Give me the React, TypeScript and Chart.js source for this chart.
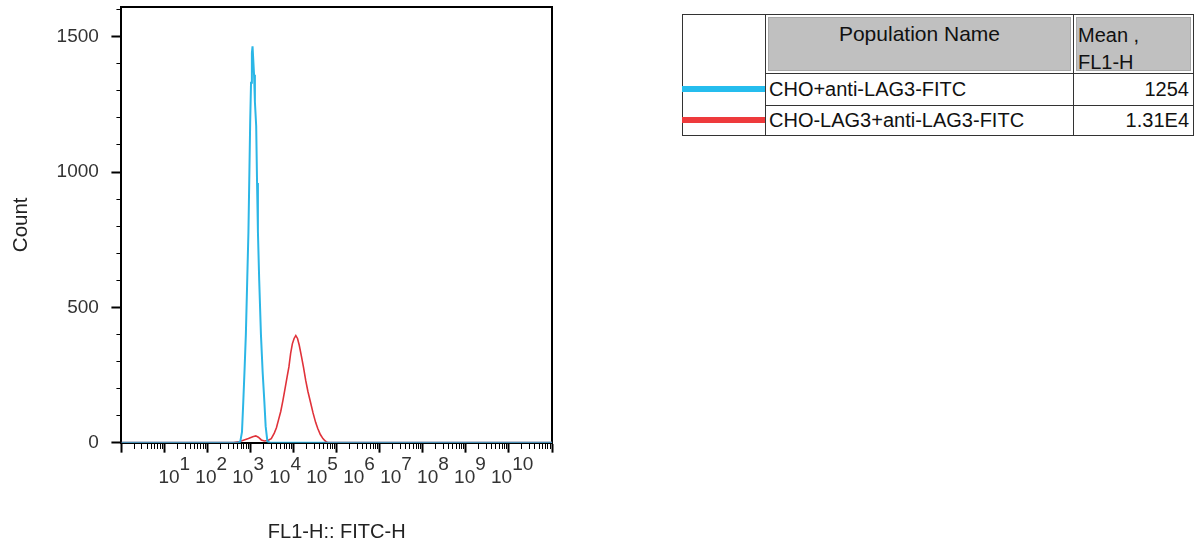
import React, { useEffect, useRef } from 'react';
import { Chart, registerables } from 'chart.js';

Chart.register(...registerables);

const FONT = "'Liberation Sans', Arial, Helvetica, sans-serif";

// ---- data ----
const SERIES_NAMES = ['CHO+anti-LAG3-FITC', 'CHO-LAG3+anti-LAG3-FITC'];
const SERIES_MEANS = ['1254', '1.31E4'];
const SERIES_COLORS = ['#2bb6e6', '#e0323a'];
const LEGEND_COLORS = ['#25bdee', '#ee3a3c'];

// FL1-H position in decades (log10 of FL1-H) and counts
const blueLogFL1 = [0, 2.7, 2.76, 2.8, 2.83, 2.86, 2.89, 2.92, 2.95, 2.97, 2.99, 3.01, 3.03, 3.045, 3.06, 3.08, 3.1, 3.13, 3.15, 3.17, 3.2, 3.24, 3.28, 3.32, 3.35, 3.39, 3.45, 10];
const blueCounts = [0, 0, 3, 40, 150, 270, 400, 590, 780, 980, 1180, 1330, 1440, 1465, 1420, 1360, 1260, 1170, 960, 780, 600, 400, 260, 150, 60, 5, 0, 0];

const redLogFL1 = [0, 2.6, 2.75, 2.85, 2.95, 3.05, 3.12, 3.18, 3.25, 3.32, 3.4, 3.48, 3.55, 3.6, 3.65, 3.7, 3.75, 3.8, 3.85, 3.89, 3.93, 3.97, 4.01, 4.05, 4.09, 4.13, 4.18, 4.23, 4.28, 4.33, 4.39, 4.45, 4.51, 4.56, 4.62, 4.68, 4.74, 4.8, 10];
const redCounts = [0, 0, 4, 10, 15, 22, 25, 20, 10, 6, 8, 15, 35, 55, 85, 115, 155, 200, 245, 280, 330, 365, 385, 396, 385, 360, 320, 277, 230, 190, 150, 110, 75, 52, 30, 15, 5, 0, 0];

// ---- axes ----
const X_DECADES = [0, 1, 2, 3, 4, 5, 6, 7, 8, 9, 10];
const X_MINOR_MULT = [2, 3, 4, 5, 6, 7, 8, 9];
const X_LABEL_POS = [1, 2, 3, 4, 5, 6, 7, 8, 9, 10];
const X_LABEL_EXP = ['1', '2', '3', '4', '5', '6', '7', '8', '9', '10'];
const Y_MAX = 1610;
const Y_TICKS = [0, 100, 200, 300, 400, 500, 600, 700, 800, 900, 1000, 1100, 1200, 1300, 1400, 1500, 1600];
const Y_LABELED = [0, 500, 1000, 1500];

const isDecade = (v: number) => {
  const l = Math.log10(v);
  return Math.abs(l - Math.round(l)) < 1e-6;
};
const isYMajor = (v: number) => Y_LABELED.indexOf(v) >= 0;

const xTickValues: number[] = [];
X_DECADES.forEach((d) => {
  xTickValues.push(Math.pow(10, d));
  if (d < 10) X_MINOR_MULT.forEach((m) => xTickValues.push(m * Math.pow(10, d)));
});

const toPoints = (lx: number[], c: number[]) => lx.map((v, i) => ({ x: Math.pow(10, v), y: c[i] }));

export default function App() {
  const ref = useRef<HTMLCanvasElement>(null);

  useEffect(() => {
    if (!ref.current) return;
    Chart.defaults.font.family = FONT;
    const chart = new Chart(ref.current, {
      type: 'line',
      data: {
        datasets: [
          {
            label: SERIES_NAMES[0],
            data: toPoints(blueLogFL1, blueCounts),
            borderColor: SERIES_COLORS[0],
            borderWidth: 2,
            pointRadius: 0,
            fill: false,
            tension: 0,
            xAxisID: 'x',
            yAxisID: 'y',
          },
          {
            label: SERIES_NAMES[1],
            data: toPoints(redLogFL1, redCounts),
            borderColor: SERIES_COLORS[1],
            borderWidth: 1.6,
            pointRadius: 0,
            fill: false,
            tension: 0,
            xAxisID: 'x',
            yAxisID: 'y',
          },
        ],
      },
      options: {
        responsive: false,
        animation: false,
        layout: { padding: { left: 3, top: 7, right: 646, bottom: 2 } },
        plugins: { legend: { display: false }, tooltip: { enabled: false } },
        scales: {
          x: {
            type: 'logarithmic',
            position: 'bottom',
            min: 1,
            max: 1e10,
            weight: 1,
            afterBuildTicks: (scale: any) => {
              scale.ticks = xTickValues.map((v) => ({ value: v }));
            },
            ticks: { display: false },
            grid: {
              display: true,
              drawOnChartArea: false,
              drawTicks: true,
              tickLength: 10,
              tickColor: '#000',
              tickWidth: (ctx: any) => (ctx.tick && isDecade(ctx.tick.value) ? 2 : 1),
              tickBorderDash: (ctx: any) => (ctx.tick && isDecade(ctx.tick.value) ? [] : [5, 100]),
            },
            border: { display: true, color: '#000', width: 2 },
          },
          xl: {
            type: 'linear',
            position: 'bottom',
            min: 0,
            max: 11.65,
            weight: 2,
            afterBuildTicks: (scale: any) => {
              scale.ticks = X_LABEL_POS.map((v) => ({ value: v }));
            },
            ticks: {
              autoSkip: false,
              maxRotation: 0,
              minRotation: 0,
              align: 'start',
              padding: 5,
              color: '#333',
              font: { family: FONT, size: 19, lineHeight: 0.72 },
              callback: (_v: any, i: number) => ['    ' + X_LABEL_EXP[i], '10'],
            },
            grid: { display: false, drawTicks: false, drawOnChartArea: false },
            border: { display: false },
            title: {
              display: true,
              text: 'FL1-H:: FITC-H',
              color: '#222',
              font: { family: FONT, size: 20 },
              padding: { top: 30, bottom: 4 },
            },
          },
          x2: {
            type: 'linear',
            position: 'top',
            ticks: { display: false },
            grid: { display: false, drawTicks: false, drawOnChartArea: false },
            border: { display: true, color: '#000', width: 2 },
          },
          y: {
            type: 'linear',
            position: 'left',
            min: 0,
            max: Y_MAX,
            afterBuildTicks: (scale: any) => {
              scale.ticks = Y_TICKS.map((v) => ({ value: v }));
            },
            ticks: {
              autoSkip: false,
              padding: 2,
              color: '#333',
              font: (ctx: any) =>
                ctx.tick && isYMajor(ctx.tick.value)
                  ? { family: FONT, size: 19 }
                  : { family: FONT, size: 19, lineHeight: 0.05 },
              callback: (v: any) => (isYMajor(Number(v)) ? String(v) + '  ' : ''),
            },
            grid: {
              drawOnChartArea: false,
              tickLength: 10,
              tickColor: '#000',
              tickWidth: (ctx: any) => (ctx.tick && isYMajor(ctx.tick.value) ? 2 : 1),
              tickBorderDash: (ctx: any) => (ctx.tick && isYMajor(ctx.tick.value) ? [] : [0, 5, 5, 100]),
            },
            border: { display: true, color: '#000', width: 2 },
            title: {
              display: true,
              text: 'Count',
              color: '#222',
              font: { family: FONT, size: 20.5 },
              padding: { top: 6, bottom: 21 },
            },
          },
          y2: {
            type: 'linear',
            position: 'right',
            ticks: { display: false },
            grid: { display: false, drawTicks: false, drawOnChartArea: false },
            border: { display: true, color: '#000', width: 2 },
          },
        },
      } as any,
    });
    return () => chart.destroy();
  }, []);

  const cellBase: React.CSSProperties = {
    position: 'absolute',
    boxSizing: 'border-box',
    border: '1px solid #333',
    background: '#fff',
  };
  const cols = [682, 765, 1073, 1193];
  const rows = [14, 73, 105, 135];
  const cell = (c: number, r: number, extra?: React.CSSProperties, children?: React.ReactNode) => (
    <div
      key={`${c}-${r}`}
      style={{
        ...cellBase,
        left: cols[c],
        top: rows[r],
        width: cols[c + 1] - cols[c] + 1,
        height: rows[r + 1] - rows[r] + 1,
        ...extra,
      }}
    >
      {children}
    </div>
  );
  const grayInset: React.CSSProperties = {
    position: 'absolute',
    left: 2,
    top: 2,
    right: 2,
    bottom: 2,
    background: '#c0c0c0',
    border: '1px solid #a8a8a8',
    overflow: 'hidden',
  };
  const txt: React.CSSProperties = { fontFamily: FONT, fontSize: 20, color: '#111', whiteSpace: 'nowrap' };

  return (
    <div style={{ position: 'fixed', left: 0, top: 0, width: 1198, height: 550, background: '#fff' }}>
      <canvas ref={ref} width={1198} height={550} style={{ position: 'absolute', left: 0, top: 0 }} />
      {cell(0, 0)}
      {cell(1, 0, {}, (
        <div style={grayInset}>
          <div style={{ ...txt, fontSize: 21, position: 'absolute', left: 0, right: 0, top: 2, textAlign: 'center', lineHeight: '28px' }}>
            Population Name
          </div>
        </div>
      ))}
      {cell(2, 0, {}, (
        <div style={grayInset}>
          <div style={{ ...txt, position: 'absolute', left: 1, top: 3.5, lineHeight: '27px' }}>
            Mean ,<br />FL1-H
          </div>
        </div>
      ))}
      {[0, 1].map((i) => (
        <React.Fragment key={i}>
          {cell(0, i + 1, { border: 'none', borderBottom: '1px solid #333', borderLeft: '1px solid #333' }, (
            <div
              style={{
                position: 'absolute',
                left: -1,
                right: 0,
                top: i === 0 ? 13 : 12,
                height: 6,
                background: LEGEND_COLORS[i],
              }}
            />
          ))}
          {cell(1, i + 1, {}, (
            <div style={{ ...txt, position: 'absolute', left: 3, top: 0, bottom: 0, display: 'flex', alignItems: 'center' }}>
              {SERIES_NAMES[i]}
            </div>
          ))}
          {cell(2, i + 1, {}, (
            <div style={{ ...txt, position: 'absolute', right: 4, top: 0, bottom: 0, display: 'flex', alignItems: 'center' }}>
              {SERIES_MEANS[i]}
            </div>
          ))}
        </React.Fragment>
      ))}
    </div>
  );
}
